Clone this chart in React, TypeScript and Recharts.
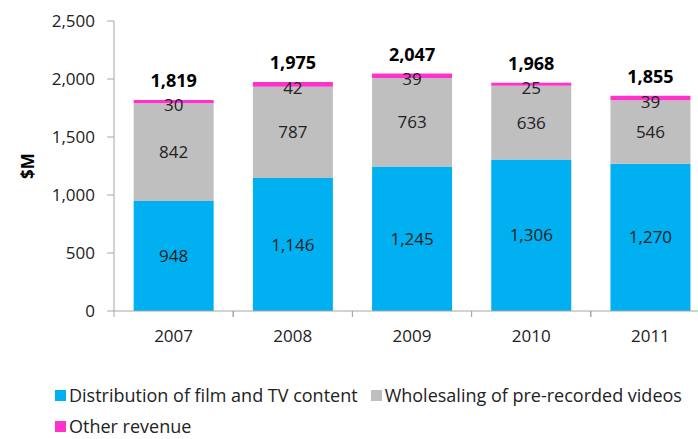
import { BarChart, Bar, XAxis, YAxis, LabelList } from 'recharts';

const categories = ['2007', '2008', '2009', '2010', '2011'];
const distribution = [948, 1146, 1245, 1306, 1270];
const wholesaling = [842, 787, 763, 636, 546];
const other = [30, 42, 39, 25, 39];
const totals = [1819, 1975, 2047, 1968, 1855];
const yTicks = [0, 500, 1000, 1500, 2000, 2500];

const seriesNames = [
  'Distribution of film and TV content',
  'Wholesaling of pre-recorded videos',
  'Other revenue',
];
const colors = ['#00B0F0', '#BFBFBF', '#FF33CC'];

const data = categories.map((year, i) => ({
  year,
  distribution: distribution[i],
  wholesaling: wholesaling[i],
  other: other[i],
  total: totals[i],
}));

const font = "'Open Sans', 'Noto Sans', sans-serif";
const fmt = (v: number) => v.toLocaleString('en-US');

const CHART_W = 712;
const Y_AXIS_W = 114;
const MARGIN_RIGHT = 2;
const band = (CHART_W - Y_AXIS_W - MARGIN_RIGHT) / categories.length;

function XTick(props: any) {
  const { x, y, payload } = props;
  return (
    <g>
      <line x1={x - band / 2} x2={x - band / 2} y1={y - 8} y2={y - 2} stroke="#A6A6A6" />
      <line x1={x + band / 2} x2={x + band / 2} y1={y - 8} y2={y - 2} stroke="#A6A6A6" />
      <text x={x} y={y + 23} textAnchor="middle" fontSize={17} fill="#222" fontFamily={font}>
        {payload.value}
      </text>
    </g>
  );
}

function TotalLabel(props: any) {
  const { x, y, width, index } = props;
  return (
    <text
      x={x + width / 2}
      y={y - 20}
      textAnchor="middle"
      dominantBaseline="central"
      fontSize={18}
      fontWeight="bold"
      fill="#000"
      fontFamily={font}
    >
      {fmt(totals[index])}
    </text>
  );
}

function OtherLabel(props: any) {
  const { x, y, width, height, value } = props;
  return (
    <text
      x={x + width / 2}
      y={y + height / 2 + 3}
      textAnchor="middle"
      dominantBaseline="central"
      fontSize={17}
      fill="#222"
      fontFamily={font}
    >
      {fmt(value)}
    </text>
  );
}

export default function App() {
  return (
    <div
      style={{
        position: 'fixed',
        left: 0,
        top: 0,
        width: 698,
        height: 439,
        overflow: 'hidden',
        background: '#fff',
        fontFamily: font,
      }}
    >
      <BarChart
        width={CHART_W}
        height={439}
        data={data}
        margin={{ top: 21, right: MARGIN_RIGHT, left: 0, bottom: 98 }}
        barCategoryGap="16.5%"
      >
        <YAxis
          width={Y_AXIS_W}
          domain={[0, 2500]}
          ticks={yTicks}
          tickFormatter={fmt}
          tick={{ fontSize: 17, fill: '#222', fontFamily: font }}
          tickSize={7}
          tickMargin={12}
          stroke="#A6A6A6"
          interval={0}
          label={{
            value: '$M',
            angle: -90,
            position: 'insideLeft',
            offset: 28,
            style: { fontSize: 17, fontWeight: 'bold', fill: '#000', fontFamily: font, textAnchor: 'middle' },
          }}
        />
        <XAxis
          dataKey="year"
          height={30}
          tickLine={false}
          tick={<XTick />}
          stroke="#A6A6A6"
          interval={0}
        />
        <Bar dataKey="distribution" stackId="a" fill={colors[0]} isAnimationActive={false}>
          <LabelList
            dataKey="distribution"
            position="center"
            formatter={(v: any) => fmt(v)}
            style={{ fontSize: 17, fill: '#222', fontFamily: font }}
          />
        </Bar>
        <Bar dataKey="wholesaling" stackId="a" fill={colors[1]} isAnimationActive={false}>
          <LabelList
            dataKey="wholesaling"
            position="center"
            formatter={(v: any) => fmt(v)}
            style={{ fontSize: 17, fill: '#222', fontFamily: font }}
          />
        </Bar>
        <Bar dataKey="other" stackId="a" fill={colors[2]} isAnimationActive={false}>
          <LabelList dataKey="other" content={<OtherLabel />} />
          <LabelList dataKey="total" content={<TotalLabel />} />
        </Bar>
      </BarChart>
      <div
        style={{
          position: 'absolute',
          left: 55,
          top: 383,
          width: 643,
          display: 'flex',
          flexWrap: 'wrap',
          rowGap: 7,
          fontSize: 18,
          color: '#222',
          lineHeight: '24px',
        }}
      >
        {seriesNames.map((name, i) => (
          <div key={name} style={{ display: 'flex', alignItems: 'center', marginRight: 13 }}>
            <span style={{ width: 11, height: 11, background: colors[i], marginRight: 3, display: 'inline-block' }} />
            <span>{name}</span>
          </div>
        ))}
      </div>
    </div>
  );
}
